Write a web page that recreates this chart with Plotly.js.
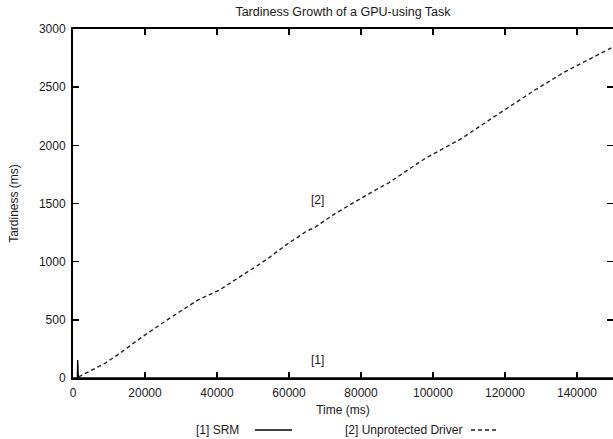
<!DOCTYPE html>
<html>
<head>
<meta charset="utf-8">
<script src="https://cdn.plot.ly/plotly-3.0.1.min.js"></script>
<style>html,body{margin:0;padding:0;background:#fff;}#chart{width:613px;height:439px;}</style>
</head>
<body>
<div id="chart"></div>
<script>
// Data
const chartTitle = "Tardiness Growth of a GPU-using Task";
const xTitle = "Time (ms)";
const yTitle = "Tardiness (ms)";
const seriesNames = ["[1] SRM", "[2] Unprotected Driver"];
const seriesTags = ["[1]", "[2]"];

const srmTime = [0, 1200, 1300, 1500, 150000];
const srmTardiness = [0, 0, 155, 0, 0];

const driverTime = [1600, 8850, 13000, 19000, 26800, 29600, 34660, 40660, 46190, 53570, 59100, 64630, 67400, 72900, 83070, 87700, 97800, 107960, 116260, 128260, 136560, 149450, 150000];
const driverTardiness = [10, 126, 212, 349, 513, 570, 670, 756, 865, 1014, 1142, 1257, 1300, 1415, 1600, 1678, 1887, 2059, 2231, 2474, 2631, 2832, 2845];

const tagX = [68000, 68000];
const tagY = [155, 1530];

const xTicks = [0, 20000, 40000, 60000, 80000, 100000, 120000, 140000];
const yTicks = [0, 500, 1000, 1500, 2000, 2500, 3000];

const font = {family: "Liberation Sans, Arial, Helvetica, sans-serif", size: 12, color: "#1a1a1a"};

const traces = [
  {x: srmTime, y: srmTardiness, mode: "lines", name: seriesNames[0],
   line: {color: "#000", width: 1.3}, showlegend: false},
  {x: driverTime, y: driverTardiness, mode: "lines", name: seriesNames[1],
   line: {color: "#222", width: 1.4, dash: "4px,3px"}, showlegend: false}
];

const axisCommon = {showline: true, linewidth: 2, linecolor: "#000", mirror: "ticks",
  ticks: "inside", ticklen: 6, tickwidth: 1.5, tickcolor: "#000",
  showgrid: false, zeroline: false, tickfont: font, ticklabelstandoff: 3};

const layout = {
  width: 613, height: 439,
  margin: {l: 73, r: 0, t: 29, b: 61},
  paper_bgcolor: "#fff", plot_bgcolor: "#fff",
  font: font,
  title: {text: chartTitle, font: {family: font.family, size: 12.5, color: "#1a1a1a"}, x: 0.5595, xanchor: "center", y: 0.973, yanchor: "middle"},
  xaxis: Object.assign({}, axisCommon, {range: [0, 150000], tickvals: xTicks, ticktext: xTicks.map(String),
    title: {text: xTitle, font: font, standoff: 6}}),
  yaxis: Object.assign({}, axisCommon, {range: [0, 3000], tickvals: yTicks, ticktext: yTicks.map(String),
    title: {text: yTitle, font: font, standoff: 18}}),
  annotations: [
    {x: tagX[0], y: tagY[0], xref: "x", yref: "y", text: seriesTags[0], showarrow: false, font: font},
    {x: tagX[1], y: tagY[1], xref: "x", yref: "y", text: seriesTags[1], showarrow: false, font: font}
  ],
  shapes: []
};

// Legend (gnuplot style: text then sample), placed in paper coords
function px2paperX(px){ return (px - 73) / 540; }
function py2paperY(py){ return (378 - py) / 349; }
layout.annotations.push({x: px2paperX(241), y: py2paperY(430), xref: "paper", yref: "paper", text: seriesNames[0],
  showarrow: false, font: font, xanchor: "right", yanchor: "middle"});
layout.annotations.push({x: px2paperX(464), y: py2paperY(430), xref: "paper", yref: "paper", text: seriesNames[1],
  showarrow: false, font: font, xanchor: "right", yanchor: "middle"});
layout.shapes.push({type: "line", xref: "paper", yref: "paper", x0: px2paperX(255), x1: px2paperX(292),
  y0: py2paperY(430), y1: py2paperY(430), line: {color: "#000", width: 1.3}});
layout.shapes.push({type: "line", xref: "paper", yref: "paper", x0: px2paperX(471), x1: px2paperX(498),
  y0: py2paperY(430), y1: py2paperY(430), line: {color: "#222", width: 1.4, dash: "4px,3px"}});

Plotly.newPlot("chart", traces, layout, {displayModeBar: false, staticPlot: true});
</script>
</body>
</html>
